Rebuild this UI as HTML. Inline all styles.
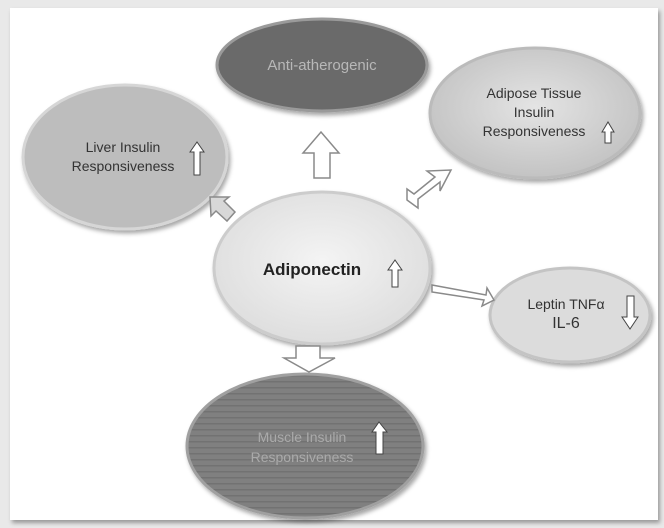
<!DOCTYPE html>
<html><head><style>
body{margin:0;width:664px;height:528px;background:#e9e9e9;overflow:hidden}
svg{display:block}
text{font-family:"Liberation Sans",sans-serif;}
</style></head><body>
<svg width="664" height="528" viewBox="0 0 664 528">
<defs>
<filter id="sh" x="-10%" y="-10%" width="120%" height="120%"><feDropShadow dx="2" dy="3" stdDeviation="2" flood-color="#000" flood-opacity="0.35"/></filter>
<radialGradient id="g1" cx="0.5" cy="0.45" r="0.6"><stop offset="0" stop-color="#f4f4f4"/><stop offset="1" stop-color="#dcdcdc"/></radialGradient>
<radialGradient id="g2" cx="0.5" cy="0.45" r="0.6"><stop offset="0" stop-color="#e4e4e4"/><stop offset="1" stop-color="#c0c0c0"/></radialGradient>
<pattern id="stripes" width="10" height="6" patternUnits="userSpaceOnUse"><rect width="10" height="6" fill="#808080"/><rect y="3" width="10" height="1.5" fill="#727272"/></pattern>
</defs>
<rect x="10" y="8" width="648" height="512" fill="#fff" filter="url(#sh)"/>
<ellipse cx="322" cy="65" rx="105" ry="46" fill="#6a6a6a" stroke="#9a9a9a" stroke-width="3" filter="url(#sh)"/>
<ellipse cx="535" cy="113" rx="105" ry="65" fill="url(#g2)" stroke="#bbb" stroke-width="3" filter="url(#sh)"/>
<ellipse cx="125" cy="157" rx="102" ry="72" fill="#bdbdbd" stroke="#d6d6d6" stroke-width="3" filter="url(#sh)"/>
<ellipse cx="322" cy="268" rx="108" ry="76" fill="url(#g1)" stroke="#ccc" stroke-width="3" filter="url(#sh)"/>
<ellipse cx="570" cy="315" rx="80" ry="47" fill="#dcdcdc" stroke="#c4c4c4" stroke-width="3" filter="url(#sh)"/>
<ellipse cx="305" cy="446" rx="118" ry="72" fill="url(#stripes)" stroke="#a0a0a0" stroke-width="3" filter="url(#sh)"/>
<g fill="#fff" stroke="#8a8a8a" stroke-width="1.5">
<polygon points="314,178 330,178 330,153 339,153 321,132 303,153 314,153"/>
<polygon points="407,200 418,208 418,199 440,182 440,191 451,170 427,171 435,177 414,194 407,189"/>
<polygon points="235,212 224,201 229,197 210,197 211,216 216,211 227,221" fill="#d8d8d8"/>
<polygon points="432,285 486,295 487,288 494,300 482,306 484,300 432,292"/>
<polygon points="296,346 320,346 320,358 335,358 309,372 284,358 296,358"/>
</g>
<text x="322" y="70" text-anchor="middle" font-size="15" fill="#b8b8b8">Anti-atherogenic</text>
<g font-size="14" fill="#333" text-anchor="middle">
<text x="534" y="98">Adipose Tissue</text>
<text x="534" y="117">Insulin</text>
<text x="534" y="136">Responsiveness</text>
<text x="123" y="152">Liver Insulin</text>
<text x="123" y="171">Responsiveness</text>
<text x="566" y="309">Leptin TNFα</text>
<text x="566" y="328" font-size="16">IL-6</text>
</g>
<text x="312" y="275" text-anchor="middle" font-size="17" font-weight="bold" fill="#222">Adiponectin</text>
<g font-size="14" fill="#aaa" text-anchor="middle">
<text x="302" y="442">Muscle Insulin</text>
<text x="302" y="462">Responsiveness</text>
</g>
<g fill="#fff" stroke="#444" stroke-width="1">
<polygon points="605,143 611,143 611,132 614,132 608,122 602,132 605,132"/>
<polygon points="194,175 200,175 200,152 204,152 197,142 190,152 194,152"/>
<polygon points="392,287 398,287 398,270 402,270 395,260 388,270 392,270"/>
<polygon points="627,296 634,296 634,317 638,317 630,329 622,317 627,317"/>
<polygon points="376,454 383,454 383,432 387,432 379,422 372,432 376,432"/>
</g>
</svg>
</body></html>
